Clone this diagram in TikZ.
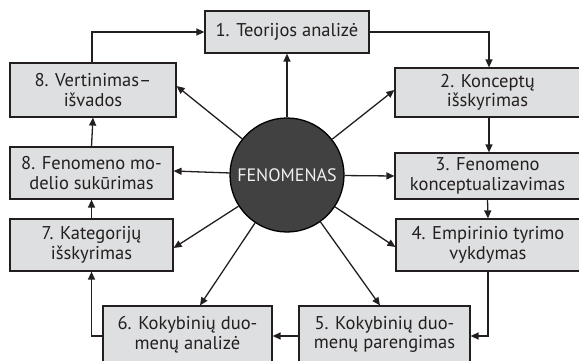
\documentclass[tikz,border=0pt]{standalone}
\usepackage{fontspec}
\setmainfont{PT Sans}
\usetikzlibrary{arrows.meta,calc}
\definecolor{boxfill}{RGB}{222,223,224}
\definecolor{circfill}{RGB}{65,65,66}
\definecolor{txt}{RGB}{35,31,32}
\begin{document}
\begin{tikzpicture}[x=1pt,y=-1pt,
  stepbox/.style={draw=txt,line width=1.2pt,fill=boxfill,align=center,text=txt,
    font=\fontsize{18.5}{19.5}\selectfont,inner sep=0pt,anchor=center},
  link/.style={draw=txt,line width=1.3pt,-{Triangle[length=8pt,width=7pt]}},
  hub/.style={circle,draw=black,line width=1.3pt,fill=circfill,text={rgb,255:red,240;green,240;blue,240},
    minimum size=114pt,inner sep=0pt,font=\fontsize{18}{19.5}\selectfont}]
\useasboundingbox (0,0) rectangle (579,361);
\node[stepbox,minimum width=164pt,minimum height=42pt] (b1) at (287,32) {1. Teorijos analizė};
\node[stepbox,minimum width=185pt,minimum height=49pt] (b2) at (487.5,92.5) {2. Konceptų\\išskyrimas};
\node[stepbox,minimum width=185pt,minimum height=46pt] (b3) at (487.5,176) {3. Fenomeno\\konceptualizavimas};
\node[stepbox,minimum width=184pt,minimum height=52pt] (b4) at (488,245) {4. Empirinio tyrimo\\vykdymas};
\node[stepbox,minimum width=171pt,minimum height=57pt] (b5) at (384.5,334.5) {5. Kokybinių duo-\\menų parengimas};
\node[stepbox,minimum width=169pt,minimum height=57pt] (b6) at (187.5,334.5) {6. Kokybinių duo-\\menų analizė};
\node[stepbox,minimum width=163pt,minimum height=52pt] (b7) at (91.5,245) {7. Kategorijų\\išskyrimas};
\node[stepbox,minimum width=163pt,minimum height=52pt] (b8f) at (91.5,173) {8. Fenomeno mo-\\delio sukūrimas};
\node[stepbox,minimum width=166pt,minimum height=54pt] (b8v) at (93,90) {8. Vertinimas–\\išvados};
\node[hub] (c) at (287,175) {FENOMENAS};
% cycle
\draw[link] ([xshift=-1pt]b8v.north) |- (b1.west);
\draw[link] (b1.east) -| ([xshift=1.5pt]b2.north);
\draw[link] ([xshift=1.5pt]b2.south) -- ([xshift=1.5pt]b3.north);
\draw[link] (b3.south) -- (b4.north);
\draw[link] (b4.south) |- ([yshift=-1.5pt]b5.east);
\draw[link] ([yshift=-1.5pt]b5.west) -- ([yshift=-1.5pt]b6.east);
\draw[link] ([yshift=-1.5pt]b6.west) -| (b7.south);
\draw[link] (b7.north) -- (b8f.south);
\draw[link] (b8f.north) -- (b8v.south);
% spokes
\draw[link] (c) -- (b1.south);
\draw[link] (c) -- ([yshift=2.5pt]b2.west);
\draw[link] (c) -- (b3.west);
\draw[link] (c) -- ([yshift=-2pt]b4.west);
\draw[link] (c) -- ([xshift=-4.5pt]b5.north);
\draw[link] (c) -- ([xshift=12.5pt]b6.north);
\draw[link] (c) -- ([yshift=-3pt]b7.east);
\draw[link] (c) -- ([yshift=2pt]b8f.east);
\draw[link] (c) -- ([yshift=4pt]b8v.east);
\end{tikzpicture}
\end{document}
